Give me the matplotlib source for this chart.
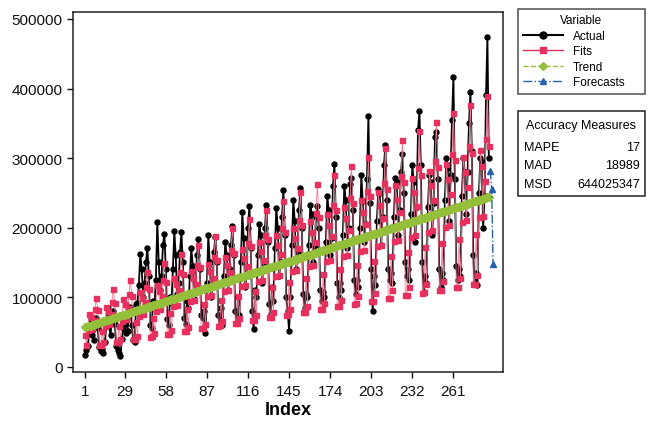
import matplotlib
matplotlib.use("Agg")
import matplotlib.pyplot as plt
from matplotlib.lines import Line2D
from matplotlib.patches import Rectangle
import numpy as np

plt.rcParams['font.family'] = ['Liberation Sans', 'DejaVu Sans']

# ---- data ----
actual = [
    17000, 24000, 30000, 52000, 68000, 45000, 38000, 62000, 70000, 55000, 28000, 22000,
    26000, 20000, 35000, 60000, 84000, 58000, 45000, 70000, 80000, 62000, 30000, 24000,
    20000, 16000, 40000, 55000, 62000, 48000, 52000, 75000, 86000, 60000, 38000, 35000,
    90000, 92000, 118000, 162000, 140000, 100000, 120000, 150000, 171000, 130000, 60000, 55000,
    95000, 88000, 125000, 208000, 150000, 110000, 130000, 175000, 191000, 140000, 68000, 60000,
    100000, 92000, 140000, 195000, 160000, 105000, 120000, 165000, 194000, 150000, 70000, 62000,
    95000, 85000, 130000, 171000, 145000, 98000, 115000, 160000, 183000, 140000, 75000, 70000,
    80000, 49000, 120000, 189000, 150000, 100000, 118000, 165000, 187000, 150000, 75000, 60000,
    85000, 60000, 130000, 180000, 160000, 110000, 140000, 175000, 203000, 160000, 80000, 65000,
    100000, 75000, 150000, 222000, 185000, 115000, 130000, 200000, 231000, 170000, 80000, 54000,
    110000, 100000, 160000, 205000, 190000, 120000, 150000, 200000, 232000, 180000, 90000, 76000,
    115000, 95000, 170000, 228000, 200000, 130000, 150000, 215000, 254000, 190000, 100000, 80000,
    52000, 100000, 175000, 240000, 210000, 140000, 165000, 225000, 257000, 200000, 105000, 85000,
    105000, 100000, 175000, 232000, 220000, 150000, 170000, 215000, 231000, 200000, 110000, 95000,
    108000, 100000, 180000, 245000, 225000, 160000, 185000, 260000, 292000, 215000, 120000, 100000,
    120000, 110000, 190000, 260000, 240000, 170000, 200000, 262000, 272000, 225000, 125000, 105000,
    125000, 115000, 200000, 275000, 238000, 180000, 205000, 270000, 361000, 236000, 140000, 80000,
    130000, 118000, 210000, 255000, 250000, 175000, 215000, 290000, 319000, 240000, 140000, 125000,
    135000, 120000, 215000, 272000, 265000, 190000, 225000, 280000, 306000, 250000, 150000, 130000,
    140000, 125000, 220000, 290000, 265000, 180000, 230000, 340000, 367000, 290000, 150000, 108000,
    130000, 120000, 230000, 275000, 265000, 190000, 235000, 330000, 337000, 270000, 140000, 115000,
    135000, 125000, 240000, 300000, 285000, 210000, 275000, 355000, 416000, 270000, 145000, 125000,
    140000, 130000, 245000, 300000, 280000, 220000, 280000, 350000, 395000, 310000, 160000, 120000,
    135000, 118000, 250000, 300000, 295000, 200000, 245000, 390000, 474000, 300000,
]
# multiplicative decomposition model
trend_intercept = 55950
trend_slope = 658
seasonal_index = [0.8, 0.55, 0.9, 1.3, 1.2, 0.9, 1.1, 1.35, 1.6, 1.3, 0.5, 0.5]
forecasts = [282000, 256000, 147000]

x_ticks = [1, 29, 58, 87, 116, 145, 174, 203, 232, 261]
y_ticks = [0, 100000, 200000, 300000, 400000, 500000]

acc_labels = ["MAPE", "MAD", "MSD"]
acc_values = ["17", "18989", "644025347"]

# ---- derived series ----
n = len(actual)
idx = np.arange(1, n + 1)
trend = trend_intercept + trend_slope * idx
season = np.array([seasonal_index[(i - 1) % 12] for i in idx])
fits = trend * season
f_idx = np.arange(n + 1, n + 1 + len(forecasts))

c_act = "black"
c_fit = "#e8305f"
c_trd = "#94bf3a"
c_fc = "#2860b0"

W, H = 653, 435
fig = plt.figure(figsize=(W / 100, H / 100), dpi=100)
ax = fig.add_axes([73 / W, 1 - 373 / H, 430 / W, 360 / H])

ax.plot(idx, actual, color=c_act, lw=1.3, marker='o', ms=3.6, zorder=2)
ax.plot(idx, fits, color="#f27a98", lw=0.6, zorder=3)
ax.plot(idx, fits, color=c_fit, lw=0, marker='s', ms=3.6, zorder=3)
ax.plot(idx, trend, color=c_trd, lw=1.0, ls='--', marker='D', ms=4.5, zorder=4)
ax.plot(f_idx, forecasts, color=c_fc, lw=1.0, ls='-.', marker='^', ms=4.5, zorder=5)

ax.set_xlim(-7.5, 296)
ax.set_ylim(-7600, 510000)
ax.set_xticks(x_ticks)
ax.set_yticks(y_ticks)
ax.tick_params(axis='both', labelsize=11, length=4, width=1, direction='out', colors='#111111')
ax.tick_params(axis='x', pad=5)
for s in ax.spines.values():
    s.set_linewidth(1.1)
    s.set_color('#222222')
ax.set_xlabel("Index", fontsize=13, fontweight='bold', labelpad=2)

# legend
handles = [
    Line2D([], [], color=c_act, lw=1.5, marker='o', ms=5),
    Line2D([], [], color=c_fit, lw=1.0, marker='s', ms=5),
    Line2D([], [], color=c_trd, lw=1.0, ls='--', marker='D', ms=4.5),
    Line2D([], [], color=c_fc, lw=1.0, ls='-.', marker='^', ms=5),
]
labels = ["Actual", "Fits", "Trend", "Forecasts"]
leg = fig.legend(handles, labels, title="Variable", loc='upper left',
                 bbox_to_anchor=(518 / W, 1 - 108 / H, 127 / W, 98 / H), mode='expand',
                 fontsize=8.5, title_fontsize=8.5, frameon=True, fancybox=False,
                 edgecolor='#222222', handlelength=3.4, borderpad=0.45, labelspacing=0.3,
                 handletextpad=0.8, borderaxespad=0)
leg.get_frame().set_linewidth(1.1)

# accuracy measures box
acc = fig.add_axes([518 / W, 1 - 197 / H, 127 / W, 85 / H])
acc.set_xlim(0, 1)
acc.set_ylim(0, 1)
acc.axis('off')
acc.add_patch(Rectangle((0, 0), 1, 1, transform=acc.transAxes, fill=False,
                        edgecolor='#222222', lw=1.1, clip_on=False))
acc.text(0.5, 0.84, "Accuracy Measures", ha='center', va='center', fontsize=9)
for k, (lab, val) in enumerate(zip(acc_labels, acc_values)):
    yy = 0.58 - k * 0.22
    acc.text(0.05, yy, lab, ha='left', va='center', fontsize=9)
    acc.text(0.96, yy, val, ha='right', va='center', fontsize=9)

fig.savefig("out.png", dpi=100)
